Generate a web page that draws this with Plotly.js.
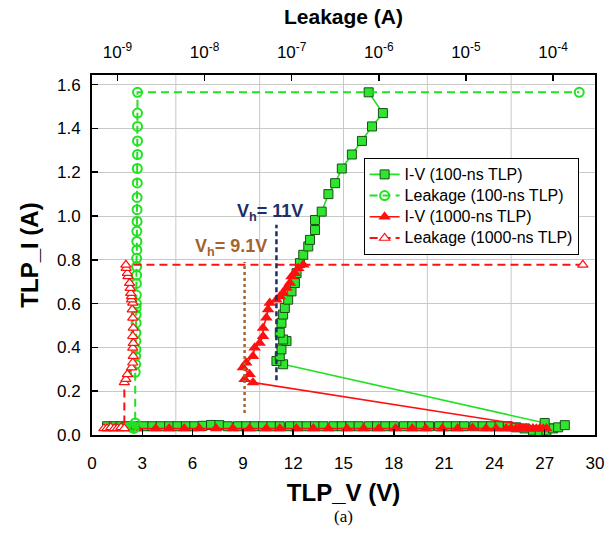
<!DOCTYPE html>
<html>
<head>
<meta charset="utf-8">
<script src="https://cdn.plot.ly/plotly-3.0.1.min.js"></script>
<style>
  html, body { margin: 0; padding: 0; background: #ffffff; }
  #chart { width: 616px; height: 535px; }
</style>
</head>
<body>
<div id="chart"></div>
<script>
// TLP I-V and leakage measurements, 100-ns and 1000-ns pulse widths

// 100-ns TLP: I-V (pulse voltage in V, pulse current in A)
const iv100V = [0.9, 1.3, 1.7, 2.1, 2.6, 3.1, 3.6, 4.1, 4.6, 5.1, 5.6, 6.1, 6.6, 7.1, 7.6, 8.1,
  8.7, 9.2, 9.7, 10.2, 10.7, 11.2, 11.8, 12.3, 12.8, 13.3, 13.8, 14.4, 14.9, 15.4, 15.9, 16.5,
  17.0, 17.5, 18.0, 18.6, 19.1, 19.6, 20.1, 20.7, 21.2, 21.7, 22.2, 22.8, 23.3, 23.8, 24.3, 24.8,
  25.3, 25.8, 26.3, 26.7, 27.1, 27.5, 27.8, 28.2, 27.0,
  11.4, 11.0, 11.2, 11.3, 11.6, 11.4, 11.2, 11.3, 11.4, 11.5, 11.7, 11.9, 12.1, 12.2, 12.4, 12.6,
  12.9, 13.0, 13.3, 13.3, 13.7, 14.1, 14.5, 14.9, 15.5, 16.1, 16.7, 17.35, 16.5];
const iv100I = [0.04, 0.04, 0.04, 0.04, 0.04, 0.04, 0.04, 0.04, 0.04, 0.04, 0.04, 0.04, 0.042, 0.046, 0.045, 0.04,
  0.04, 0.04, 0.04, 0.04, 0.04, 0.04, 0.04, 0.04, 0.04, 0.04, 0.04, 0.04, 0.04, 0.04, 0.04, 0.04,
  0.04, 0.04, 0.04, 0.04, 0.04, 0.04, 0.04, 0.04, 0.04, 0.04, 0.04, 0.04, 0.04, 0.04, 0.04, 0.04,
  0.035, 0.03, 0.02, 0.015, 0.02, 0.03, 0.035, 0.045, 0.055,
  0.323, 0.338, 0.36, 0.391, 0.429, 0.436, 0.467, 0.512, 0.55, 0.58, 0.618, 0.656, 0.694, 0.739, 0.785, 0.823,
  0.861, 0.891, 0.936, 0.982, 1.02, 1.10, 1.15, 1.217, 1.281, 1.343, 1.409, 1.47, 1.565];

// 100-ns TLP: leakage current (A) measured after each pulse, against pulse current (A)
const leak100A = [1.45e-9, 1.5e-9, 1.55e-9, 1.6e-9,
  1.6e-9, 1.62e-9, 1.62e-9, 1.63e-9, 1.63e-9, 1.63e-9, 1.64e-9, 1.64e-9, 1.64e-9, 1.65e-9,
  1.65e-9, 1.65e-9, 1.66e-9, 1.66e-9, 1.66e-9, 1.67e-9, 1.67e-9, 1.67e-9, 1.68e-9, 1.68e-9,
  1.68e-9, 1.69e-9, 1.69e-9, 1.7e-9, 1.7e-9, 1.7e-9, 1.7e-9, 1.7e-9,
  2.0e-4];
const leak100I = [0.035, 0.04, 0.03, 0.055,
  0.286, 0.323, 0.36, 0.391, 0.429, 0.467, 0.512, 0.55, 0.58, 0.6,
  0.639, 0.692, 0.73, 0.769, 0.807, 0.845, 0.884, 0.93, 0.975, 1.029,
  1.085, 1.151, 1.217, 1.281, 1.343, 1.409, 1.47, 1.565,
  1.565];

// 1000-ns TLP: I-V
const iv1000V = [2.7, 3.8, 4.6, 5.5, 6.4, 7.4, 8.4, 9.4, 10.4, 11.2, 12.2, 13.2, 14.1, 15.2, 16.2, 17.1,
  18.1, 19.1, 19.9, 20.9, 21.8, 22.7, 23.5, 24.1, 24.7, 25.0, 25.3, 25.5, 25.7, 25.9, 26.1, 26.3,
  26.5, 26.7, 26.9, 27.1,
  9.6, 9.1, 9.4, 9.0, 9.2, 9.6, 9.7, 10.0, 10.2, 10.2, 10.4, 10.5, 10.6, 11.0, 11.2, 11.4,
  11.6, 11.8, 11.9, 12.1, 12.3, 12.6];
const iv1000I = [0.03, 0.03, 0.03, 0.03, 0.03, 0.03, 0.03, 0.03, 0.03, 0.03, 0.03, 0.03, 0.03, 0.03, 0.03, 0.03,
  0.03, 0.03, 0.03, 0.03, 0.03, 0.032, 0.03, 0.03, 0.03, 0.03, 0.028, 0.03, 0.028, 0.03, 0.028, 0.03,
  0.028, 0.03, 0.028, 0.03,
  0.24, 0.255, 0.277, 0.308, 0.33, 0.36, 0.398, 0.42, 0.451, 0.489, 0.535, 0.573, 0.603, 0.618, 0.633, 0.648,
  0.671, 0.694, 0.724, 0.739, 0.762, 0.777];

// 1000-ns TLP: leakage
const leak1000A = [7.0e-10, 7.6e-10, 8.4e-10, 9.2e-10, 1.0e-9, 1.1e-9, 1.2e-9,
  1.2e-9, 1.25e-9, 1.3e-9, 1.45e-9, 1.5e-9, 1.52e-9, 1.5e-9, 1.52e-9, 1.5e-9, 1.52e-9, 1.5e-9, 1.48e-9,
  1.5e-9, 1.45e-9, 1.45e-9, 1.42e-9, 1.4e-9, 1.38e-9, 1.32e-9, 1.3e-9, 1.26e-9, 1.25e-9,
  2.2e-4];
const leak1000I = [0.03, 0.03, 0.035, 0.03, 0.03, 0.035, 0.03,
  0.24, 0.255, 0.277, 0.308, 0.33, 0.36, 0.398, 0.42, 0.451, 0.489, 0.535, 0.573,
  0.603, 0.618, 0.633, 0.648, 0.671, 0.694, 0.724, 0.739, 0.762, 0.777,
  0.777];

// Holding voltages
const vh100 = 11;
const vh1000 = 9.1;

// Axis ticks and the vertical 5 V grid
const vTicks = [0, 3, 6, 9, 12, 15, 18, 21, 24, 27, 30];
const iTicks = [0, 0.2, 0.4, 0.6, 0.8, 1.0, 1.2, 1.4, 1.6];
const leakTicks = [1e-9, 1e-8, 1e-7, 1e-6, 1e-5, 1e-4];
const leakTickText = ['10<sup>-9</sup>', '10<sup>-8</sup>', '10<sup>-7</sup>', '10<sup>-6</sup>', '10<sup>-5</sup>', '10<sup>-4</sup>'];
const gridV = [5, 10, 15, 20, 25];

const FONT = 'Liberation Sans, Arial, Helvetica, sans-serif';
const GREEN = '#22e022';
const RED = '#ff1010';
const GRID = '#c8c8c8';

// Legend labels are drawn a little larger than the legend's row spacing font
const legendName = (s) => '<span style="font-size:16px">' + s + '</span>';

const traces = [
  {
    name: legendName('I-V (100-ns TLP)'), x: iv100V, y: iv100I, xaxis: 'x', yaxis: 'y',
    type: 'scatter', mode: 'lines+markers',
    line: { color: GREEN, width: 1.6 },
    marker: { symbol: 'square', size: 9, color: '#2ee62e', line: { color: '#1a4d1a', width: 1 } }
  },
  {
    name: legendName('Leakage (100-ns TLP)'), x: leak100A, y: leak100I, xaxis: 'x2', yaxis: 'y',
    type: 'scatter', mode: 'lines+markers',
    line: { color: GREEN, width: 2, dash: '8px,5px' },
    marker: { symbol: 'circle-open', size: 9, color: GREEN, line: { color: GREEN, width: 2 } }
  },
  {
    name: legendName('I-V (1000-ns TLP)'), x: iv1000V, y: iv1000I, xaxis: 'x', yaxis: 'y',
    type: 'scatter', mode: 'lines+markers',
    line: { color: RED, width: 1.6 },
    marker: { symbol: 'triangle-up', size: 11, color: RED, line: { color: RED, width: 0 } }
  },
  {
    name: legendName('Leakage (1000-ns TLP)'), x: leak1000A, y: leak1000I, xaxis: 'x2', yaxis: 'y',
    type: 'scatter', mode: 'lines+markers',
    line: { color: RED, width: 2, dash: '8px,5px' },
    marker: { symbol: 'triangle-up', size: 9, color: '#ffffff', line: { color: RED, width: 1.2 } }
  }
];

const axisBase = {
  showline: true, linecolor: '#000000', linewidth: 2,
  ticks: 'inside', ticklen: 6, tickwidth: 1.5, tickcolor: '#000000',
  zeroline: false, showgrid: false,
  tickfont: { family: FONT, size: 17, color: '#000000' }
};

// Vertical grid lines every 5 V, behind the data
const gridShapes = gridV.map(v => ({
  type: 'line', layer: 'below', xref: 'x', yref: 'paper', x0: v, x1: v, y0: 0, y1: 1,
  line: { color: GRID, width: 1 }
}));

const layout = {
  width: 616, height: 535,
  margin: { l: 92, r: 21, t: 75, b: 100, pad: 0 },
  paper_bgcolor: '#ffffff', plot_bgcolor: '#ffffff',
  showlegend: true,
  legend: {
    x: 0.54, y: 0.77, xanchor: 'left', yanchor: 'top',
    bgcolor: '#ffffff', bordercolor: '#000000', borderwidth: 1,
    font: { family: FONT, size: 14, color: '#000000' },
    tracegroupgap: 0
  },
  xaxis: Object.assign({}, axisBase, {
    range: [0, 30], tickmode: 'array', tickvals: vTicks,
    ticklabelstandoff: 12,
    title: { text: '<b>TLP_V (V)</b>', font: { family: FONT, size: 24, color: '#000000' }, standoff: 12 }
  }),
  xaxis2: Object.assign({}, axisBase, {
    type: 'log', overlaying: 'x', side: 'top', anchor: 'y',
    range: [-9.292, -3.518], tickmode: 'array', tickvals: leakTicks, ticktext: leakTickText,
    ticklabelstandoff: 8,
    title: { text: '<b>Leakage (A)</b>', font: { family: FONT, size: 21, color: '#000000' }, standoff: 10 }
  }),
  yaxis: Object.assign({}, axisBase, {
    range: [0, 1.644], tickmode: 'array', tickvals: iTicks, tickformat: '.1f',
    mirror: true, showgrid: true, gridcolor: GRID, gridwidth: 1,
    ticklabelstandoff: 6,
    title: { text: '<b>TLP_I (A)</b>', font: { family: FONT, size: 24, color: '#000000' }, standoff: 12 }
  }),
  shapes: gridShapes.concat([
    { type: 'line', xref: 'x', yref: 'y', x0: vh100, x1: vh100, y0: 0.25, y1: 0.96,
      line: { color: '#1c2f66', width: 2.5, dash: '5px,3px' } },
    { type: 'line', xref: 'x', yref: 'y', x0: vh1000, x1: vh1000, y0: 0.10, y1: 0.79,
      line: { color: '#a4642e', width: 2.5, dash: 'dot' } }
  ]),
  annotations: [
    { xref: 'x', yref: 'y', x: 10.6, y: 1.014, xanchor: 'center', yanchor: 'middle', showarrow: false,
      text: '<b>V<sub>h</sub>= ' + vh100 + 'V</b>', font: { family: FONT, size: 18, color: '#1c2f66' } },
    { xref: 'x', yref: 'y', x: 8.3, y: 0.854, xanchor: 'center', yanchor: 'middle', showarrow: false,
      text: '<b>V<sub>h</sub>= ' + vh1000 + 'V</b>', font: { family: FONT, size: 18, color: '#a4642e' } },
    { xref: 'paper', yref: 'paper', x: 0.5, y: -0.225, xanchor: 'center', yanchor: 'middle', showarrow: false,
      text: '(a)', font: { family: 'Liberation Serif, Times New Roman, serif', size: 17, color: '#000000' } }
  ]
};

Plotly.newPlot('chart', traces, layout, { staticPlot: true, displayModeBar: false });
</script>
</body>
</html>
